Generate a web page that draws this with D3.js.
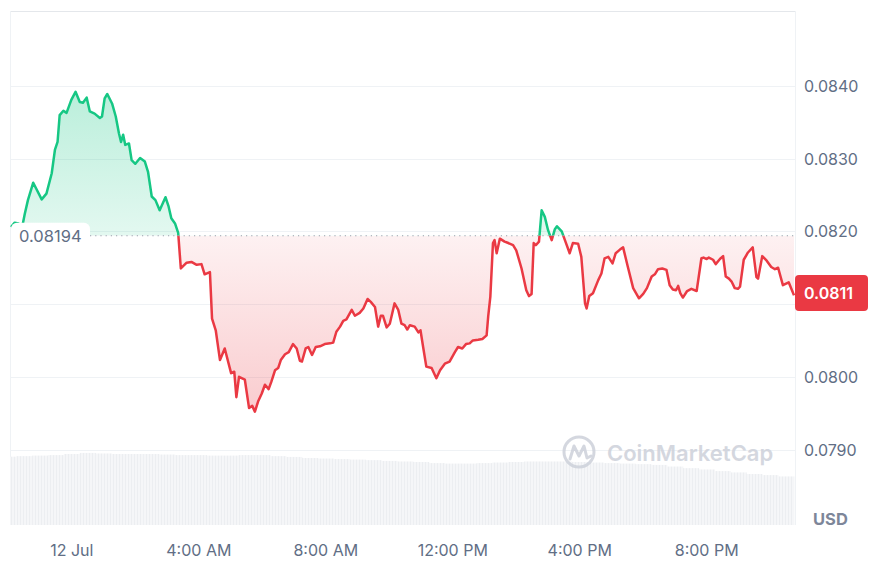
<!DOCTYPE html>
<html>
<head>
<meta charset="utf-8">
<script src="https://cdn.jsdelivr.net/npm/d3@7"></script>
<style>
    body { margin: 0; background: #fff; }
    svg { display: block; font-family: Inter, "Noto Sans", sans-serif; }
</style>
</head>
<body>
<svg></svg>
<script>
// Price data: minutes from 12 Jul 00:00, price in USD
const minutes = [
    -115, -108, -101, -95, -89, -83, -73, -57, -48, -38, -32, -27, -23, -16, -10, -1,
    7, 15, 21, 28, 34, 43, 53, 57, 62, 67, 76, 83, 89, 93, 97, 101, 108, 113, 120, 129,
    138, 144, 151, 158, 166, 177, 183, 188, 195, 201, 206, 217, 226, 236, 245, 251, 261,
    265, 272, 280, 289, 301, 307, 311, 316, 327, 335, 341, 346, 352, 359, 365, 372, 377,
    384, 390, 395, 403, 410, 418, 425, 431, 435, 442, 447, 454, 461, 469, 478, 488, 494,
    500, 507, 513, 519, 529, 535, 544, 551, 559, 565, 573, 579, 584, 588, 595, 601, 610,
    617, 623, 629, 634, 639, 648, 655, 659, 664, 670, 680, 689, 696, 705, 714, 724, 730,
    738, 745, 752, 758, 768, 776, 784, 787, 791, 796, 799, 803, 809, 818, 825, 834, 840,
    850, 859, 864, 869, 873, 877, 883, 888, 894, 900, 907, 913, 917, 926, 932, 941, 947,
    957, 963, 970, 973, 978, 985, 995, 1001, 1007, 1014, 1022, 1028, 1036, 1042, 1051,
    1061, 1072, 1080, 1087, 1096, 1102, 1108, 1116, 1124, 1130, 1136, 1142, 1146, 1150,
    1155, 1163, 1171, 1181, 1190, 1194, 1200, 1204, 1212, 1217, 1225, 1231, 1236, 1242,
    1247, 1253, 1259, 1263, 1270, 1278, 1287, 1294, 1297, 1305, 1313, 1322, 1329, 1335,
    1344, 1355, 1365
]
const prices = [
    0.08206, 0.08212, 0.08211, 0.08202, 0.08224, 0.08243, 0.08267, 0.08244, 0.08252, 0.08280,
    0.08312, 0.08323, 0.08360, 0.08366, 0.08363, 0.08381, 0.08392, 0.08378, 0.08377, 0.08384,
    0.08365, 0.08362, 0.08356, 0.08358, 0.08383, 0.08389, 0.08376, 0.08358, 0.08335, 0.08323,
    0.08333, 0.08319, 0.08321, 0.08298, 0.08293, 0.08301, 0.08296, 0.08282, 0.08248, 0.08243,
    0.08229, 0.08247, 0.08234, 0.08218, 0.08211, 0.08198, 0.08149, 0.08157, 0.08158, 0.08154,
    0.08155, 0.08141, 0.08144, 0.08080, 0.08064, 0.08023, 0.08039, 0.08005, 0.08007, 0.07972,
    0.08000, 0.07996, 0.07957, 0.07960, 0.07952, 0.07966, 0.07977, 0.07989, 0.07983, 0.07993,
    0.08009, 0.08012, 0.08023, 0.08031, 0.08034, 0.08045, 0.08039, 0.08022, 0.08021, 0.08039,
    0.08041, 0.08030, 0.08041, 0.08042, 0.08045, 0.08046, 0.08047, 0.08062, 0.08069, 0.08077,
    0.08079, 0.08092, 0.08084, 0.08088, 0.08094, 0.08107, 0.08103, 0.08096, 0.08069, 0.08084,
    0.08084, 0.08068, 0.08073, 0.08101, 0.08092, 0.08073, 0.08071, 0.08065, 0.08071, 0.08069,
    0.08061, 0.08064, 0.08041, 0.08014, 0.08012, 0.07998, 0.08009, 0.08018, 0.08021, 0.08034,
    0.08041, 0.08039, 0.08045, 0.08046, 0.08050, 0.08051, 0.08052, 0.08057, 0.08083, 0.08110,
    0.08184, 0.08188, 0.08170, 0.08190, 0.08186, 0.08184, 0.08181, 0.08174, 0.08149, 0.08119,
    0.08111, 0.08114, 0.08184, 0.08181, 0.08186, 0.08229, 0.08220, 0.08202, 0.08188, 0.08203,
    0.08207, 0.08200, 0.08188, 0.08170, 0.08184, 0.08183, 0.08165, 0.08101, 0.08094, 0.08111,
    0.08115, 0.08133, 0.08142, 0.08163, 0.08165, 0.08156, 0.08170, 0.08175, 0.08178, 0.08151,
    0.08122, 0.08108, 0.08114, 0.08122, 0.08138, 0.08141, 0.08148, 0.08149, 0.08147, 0.08126,
    0.08120, 0.08119, 0.08125, 0.08115, 0.08109, 0.08118, 0.08121, 0.08118, 0.08163, 0.08164,
    0.08162, 0.08164, 0.08161, 0.08155, 0.08162, 0.08166, 0.08138, 0.08135, 0.08131, 0.08122,
    0.08121, 0.08124, 0.08161, 0.08171, 0.08178, 0.08137, 0.08135, 0.08166, 0.08160, 0.08151,
    0.08148, 0.08150, 0.08126, 0.08130, 0.08112
]

// Volume (USD millions) every 30 minutes
const volume_minutes = [
    -120, -90, -60, -30, 0, 30, 60, 90, 120, 150, 180, 210, 240, 270, 300, 330, 360, 390,
    420, 450, 480, 510, 540, 570, 600, 630, 660, 690, 720, 750, 780, 810, 840, 870, 900,
    930, 960, 990, 1020, 1050, 1080, 1110, 1140, 1170, 1200, 1230, 1260, 1290, 1320, 1350
]
const volumes = [
    26.0, 26.2, 26.4, 26.6, 27.0, 27.4, 27.2, 27.0, 27.0, 27.0, 26.8, 26.6, 26.6, 26.4, 26.4,
    26.6, 26.6, 26.2, 25.9, 25.5, 25.3, 25.1, 24.9, 24.7, 24.4, 24.2, 24.0, 23.6, 23.4, 23.4,
    23.6, 23.8, 24.0, 24.2, 24.2, 24.2, 24.0, 23.8, 23.6, 23.4, 23.2, 22.9, 22.3, 21.7, 21.2,
    20.6, 20.1, 19.5, 19.1, 18.6
]

const open_price = 0.08194
const y_ticks = [0.0790, 0.0800, 0.0810, 0.0820, 0.0830, 0.0840]

const width = 871
const height = 562
const plot_left = 10, plot_right = 795, plot_top = 11, plot_bottom = 525

const green = "#16c784"
const red = "#ea3943"
const grid_color = "#eff2f5"
const label_color = "#616e85"

const day_start = new Date(2024, 6, 12, 0, 0)
const to_date = m => new Date(day_start.getTime() + m * 60000)

const data = minutes.map((m, i) => ({ date: to_date(m), price: prices[i] }))
const volume_data = volume_minutes.map((m, i) => ({ date: to_date(m), value: volumes[i] }))

const x = d3.scaleTime()
    .domain(d3.extent(data, d => d.date))
    .range([plot_left + 1, plot_right - 1])

const y = d3.scaleLinear()
    .domain([0.0790, 0.0840])
    .range([449.5, 86])

const y_vol = d3.scaleLinear()
    .domain([0, 30])
    .range([526, 446])

const y_base = y(open_price)

const svg = d3.select("svg")
    .attr("width", width)
    .attr("height", height)

const defs = svg.append("defs")

// Gradients for the area fills
const green_grad = defs.append("linearGradient")
    .attr("id", "green_grad")
    .attr("gradientUnits", "userSpaceOnUse")
    .attr("x1", 0).attr("x2", 0)
    .attr("y1", y(0.0840)).attr("y2", y_base)
green_grad.append("stop").attr("offset", 0).attr("stop-color", green).attr("stop-opacity", 0.3)
green_grad.append("stop").attr("offset", 1).attr("stop-color", green).attr("stop-opacity", 0.12)

const red_grad = defs.append("linearGradient")
    .attr("id", "red_grad")
    .attr("gradientUnits", "userSpaceOnUse")
    .attr("x1", 0).attr("x2", 0)
    .attr("y1", y_base).attr("y2", y(0.0795))
red_grad.append("stop").attr("offset", 0).attr("stop-color", red).attr("stop-opacity", 0.07)
red_grad.append("stop").attr("offset", 1).attr("stop-color", red).attr("stop-opacity", 0.26)

// Stripes for the volume bars
const pattern = defs.append("pattern")
    .attr("id", "vol_stripes")
    .attr("patternUnits", "userSpaceOnUse")
    .attr("width", 3)
    .attr("height", 10)
pattern.append("rect").attr("width", 3).attr("height", 10).attr("fill", "#f5f6f8")
pattern.append("rect").attr("x", 2).attr("width", 1).attr("height", 10).attr("fill", "#eceef1")

defs.append("clipPath").attr("id", "clip_plot")
    .append("rect").attr("x", plot_left).attr("y", plot_top)
    .attr("width", plot_right - plot_left).attr("height", plot_bottom - plot_top)
defs.append("clipPath").attr("id", "clip_above")
    .append("rect").attr("x", plot_left).attr("y", 0)
    .attr("width", plot_right - plot_left).attr("height", y_base)
defs.append("clipPath").attr("id", "clip_below")
    .append("rect").attr("x", plot_left).attr("y", y_base)
    .attr("width", plot_right - plot_left).attr("height", plot_bottom - y_base)

// Frame
svg.append("line")
    .attr("x1", plot_left).attr("x2", plot_right).attr("y1", plot_top + 0.5).attr("y2", plot_top + 0.5)
    .attr("stroke", "#e4e7eb")
svg.append("line")
    .attr("x1", plot_left + 0.5).attr("x2", plot_left + 0.5).attr("y1", plot_top).attr("y2", plot_bottom)
    .attr("stroke", grid_color)
svg.append("line")
    .attr("x1", plot_right + 0.5).attr("x2", plot_right + 0.5).attr("y1", plot_top).attr("y2", plot_bottom)
    .attr("stroke", grid_color)

// Grid lines
svg.append("g")
    .selectAll("line")
    .data(y_ticks)
    .enter()
    .append("line")
    .attr("x1", plot_left)
    .attr("x2", plot_right)
    .attr("y1", d => Math.round(y(d)) + 0.5)
    .attr("y2", d => Math.round(y(d)) + 0.5)
    .attr("stroke", grid_color)

// Volume bars
const half_bar = 15 * 60000
svg.append("g")
    .attr("clip-path", "url(#clip_plot)")
    .selectAll("rect")
    .data(volume_data)
    .enter()
    .append("rect")
    .attr("x", d => x(new Date(d.date.getTime() - half_bar)))
    .attr("width", d => x(new Date(d.date.getTime() + half_bar)) - x(new Date(d.date.getTime() - half_bar)) + 0.3)
    .attr("y", d => y_vol(d.value))
    .attr("height", d => y_vol(0) - y_vol(d.value))
    .attr("fill", "url(#vol_stripes)")

// Watermark
const wm = svg.append("g").attr("opacity", 0.85)
wm.append("circle")
    .attr("cx", 579).attr("cy", 452).attr("r", 15)
    .attr("fill", "none").attr("stroke", "#cdd1da").attr("stroke-width", 3)
wm.append("path")
    .attr("d", "M570,459 L574,446 L579,456 L584,446 L587,458 L591,456")
    .attr("fill", "none").attr("stroke", "#cdd1da").attr("stroke-width", 3)
    .attr("stroke-linejoin", "round").attr("stroke-linecap", "round")
wm.append("text")
    .attr("x", 607).attr("y", 461)
    .attr("font-size", "22px")
    .attr("font-weight", 600)
    .attr("fill", "#cdd1da")
    .text("CoinMarketCap")

// Price area and line, green above the open price, red below
const area = d3.area()
    .x(d => x(d.date))
    .y0(y_base)
    .y1(d => y(d.price))

const line = d3.line()
    .x(d => x(d.date))
    .y(d => y(d.price))

const parts = [["clip_above", "url(#green_grad)", green], ["clip_below", "url(#red_grad)", red]]
parts.forEach(function(p) {
    const g = svg.append("g").attr("clip-path", "url(#" + p[0] + ")")
    g.append("path")
        .datum(data)
        .attr("d", area)
        .attr("fill", p[1])
    g.append("path")
        .datum(data)
        .attr("d", line)
        .attr("fill", "none")
        .attr("stroke", p[2])
        .attr("stroke-width", 2.5)
        .attr("stroke-linejoin", "round")
})

// Dotted open price line
svg.append("line")
    .attr("x1", plot_left + 2).attr("x2", plot_right)
    .attr("y1", y_base).attr("y2", y_base)
    .attr("stroke", "#9aa1ad")
    .attr("stroke-width", 1.2)
    .attr("stroke-dasharray", "1.2,4")

// Open price label
svg.append("rect")
    .attr("x", 11).attr("y", y_base - 13)
    .attr("width", 79).attr("height", 27)
    .attr("rx", 6)
    .attr("fill", "#fff")
svg.append("text")
    .attr("x", 19).attr("y", y_base + 6)
    .attr("font-size", "16.5px")
    .attr("fill", label_color)
    .text(d3.format(".5f")(open_price))

// Last price badge position
const last = data[data.length - 1]
const badge_y = 293

// Right axis labels (the one under the badge is hidden)
svg.append("g")
    .selectAll("text")
    .data(y_ticks.filter(d => Math.abs(y(d) - badge_y) > 20))
    .enter()
    .append("text")
    .attr("x", 804)
    .attr("y", d => y(d) + 6)
    .attr("font-size", "16px")
    .attr("fill", label_color)
    .text(d => d3.format(".4f")(d))

svg.append("rect")
    .attr("x", 795).attr("y", badge_y - 18)
    .attr("width", 73).attr("height", 36)
    .attr("rx", 4)
    .attr("fill", red)
svg.append("text")
    .attr("x", 804).attr("y", badge_y + 6)
    .attr("font-size", "16px")
    .attr("font-weight", 600)
    .attr("fill", "#fff")
    .text(d3.format(".4f")(last.price))

svg.append("text")
    .attr("x", 813).attr("y", 525)
    .attr("font-size", "16.5px")
    .attr("font-weight", 700)
    .attr("fill", "#7d8699")
    .text("USD")

// Time axis labels
const format_tick = d => d.getHours() === 0 ? d3.timeFormat("%-d %b")(d) : d3.timeFormat("%-I:%M %p")(d)
svg.append("g")
    .selectAll("text")
    .data(x.ticks(d3.timeHour.every(4)))
    .enter()
    .append("text")
    .attr("x", d => x(d))
    .attr("y", 556)
    .attr("text-anchor", "middle")
    .attr("font-size", "16px")
    .attr("fill", label_color)
    .text(format_tick)
</script>
</body>
</html>
